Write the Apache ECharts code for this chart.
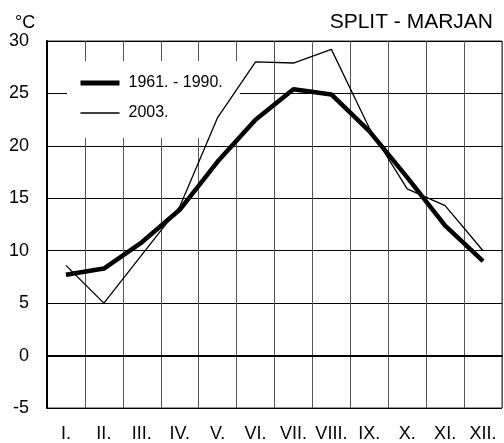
<!DOCTYPE html>
<html>
<head>
<meta charset="utf-8">
<script src="https://cdn.jsdelivr.net/npm/echarts@6/dist/echarts.min.js"></script>
<style>
  html, body { margin: 0; padding: 0; background: #fff; }
</style>
</head>
<body>
<div id="chart" style="width: 504px; height: 443px;"></div>
<script>
var months = ['I.', 'II.', 'III.', 'IV.', 'V.', 'VI.', 'VII.', 'VIII.', 'IX.', 'X.', 'XI.', 'XII.'];
var normal = [7.7, 8.3, 10.8, 13.9, 18.5, 22.5, 25.4, 24.9, 21.4, 17.0, 12.4, 9.0];
var year2003 = [8.6, 5.0, 9.6, 14.2, 22.7, 28.0, 27.9, 29.2, 21.7, 15.9, 14.3, 10.0];
var seriesNames = ['1961. - 1990.', '2003.'];

var myChart = echarts.init(document.getElementById('chart'));

var font = 'Liberation Sans, Arial, sans-serif';

var option = {
  animation: false,
  backgroundColor: '#fff',
  title: [
    {
      text: '°C',
      left: 10,
      top: 9,
      textStyle: { fontFamily: font, fontSize: 18, fontWeight: 'normal', color: '#000' }
    },
    {
      text: 'SPLIT - MARJAN',
      right: 6,
      top: 7,
      textStyle: { fontFamily: font, fontSize: 21, fontWeight: 'normal', color: '#000' }
    }
  ],
  legend: {
    orient: 'vertical',
    left: 67,
    top: 61,
    padding: [14, 17, 17, 11],
    backgroundColor: '#fff',
    itemWidth: 39,
    itemHeight: 14,
    itemGap: 14,
    itemStyle: { color: 'rgba(0,0,0,0)', borderWidth: 0, opacity: 0 },
    data: [
      { name: seriesNames[0], lineStyle: { color: '#000', width: 5 } },
      { name: seriesNames[1], lineStyle: { color: '#000', width: 1.3 } }
    ],
    textStyle: {
      fontFamily: font,
      fontSize: 16,
      color: '#000',
      padding: [0, 0, 0, 4]
    }
  },
  grid: {
    left: 47,
    right: 2,
    top: 41,
    bottom: 35,
    show: true,
    borderColor: '#333',
    borderWidth: 1
  },
  xAxis: {
    type: 'category',
    data: months,
    boundaryGap: true,
    axisLine: { lineStyle: { color: '#000', width: 2 } },
    axisTick: { show: false },
    axisLabel: {
      interval: 0,
      margin: 17,
      fontFamily: font,
      fontSize: 18,
      color: '#000'
    },
    splitLine: {
      show: true,
      interval: 0,
      lineStyle: { color: '#555', width: 1 }
    }
  },
  yAxis: {
    type: 'value',
    min: -5,
    max: 30,
    interval: 5,
    axisLine: { show: true, lineStyle: { color: '#000', width: 2 } },
    axisTick: { show: false },
    axisLabel: {
      margin: 18,
      fontFamily: font,
      fontSize: 18,
      color: '#000'
    },
    splitLine: {
      lineStyle: { color: '#000', width: 1 }
    }
  },
  series: [
    {
      name: seriesNames[0],
      type: 'line',
      data: normal,
      z: 5,
      symbol: 'none',
      lineStyle: { color: '#000', width: 4.5 },
      itemStyle: { color: '#000' },
      markLine: {
        silent: true,
        symbol: 'none',
        label: { show: false },
        lineStyle: { color: '#000', width: 2, type: 'solid' },
        data: [{ yAxis: 0 }]
      }
    },
    {
      name: seriesNames[1],
      type: 'line',
      data: year2003,
      z: 5,
      symbol: 'none',
      lineStyle: { color: '#000', width: 1.3 },
      itemStyle: { color: '#000' }
    }
  ]
};

myChart.setOption(option);
</script>
</body>
</html>
